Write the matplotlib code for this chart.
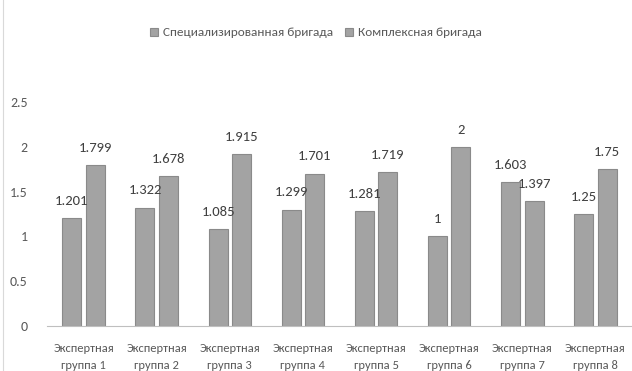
import matplotlib.pyplot as plt
import numpy as np

plt.rcParams['font.family'] = ['Carlito', 'DejaVu Sans']

groups = ["Экспертная\nгруппа 1", "Экспертная\nгруппа 2", "Экспертная\nгруппа 3",
          "Экспертная\nгруппа 4", "Экспертная\nгруппа 5", "Экспертная\nгруппа 6",
          "Экспертная\nгруппа 7", "Экспертная\nгруппа 8"]
spec = [1.201, 1.322, 1.085, 1.299, 1.281, 1, 1.603, 1.25]
kompl = [1.799, 1.678, 1.915, 1.701, 1.719, 2, 1.397, 1.75]
series_names = ["Специализированная бригада", "Комплексная бригада"]

fig = plt.figure(figsize=(6.32, 3.71), dpi=100)
ax = fig.add_axes([47/632, 45/371, 585/632, 224/371])

x = np.arange(len(groups))
w = 0.26
off = 0.16
b1 = ax.bar(x - off, spec, w, color='#a3a3a3', edgecolor='#8a8a8a', linewidth=0.8, label=series_names[0])
b2 = ax.bar(x + off, kompl, w, color='#a3a3a3', edgecolor='#8a8a8a', linewidth=0.8, label=series_names[1])

for bars, vals in ((b1, spec), (b2, kompl)):
    for b, v in zip(bars, vals):
        ax.annotate('%g' % v, (b.get_x() + b.get_width()/2, v), xytext=(0, 8),
                    textcoords='offset points', ha='center', va='bottom',
                    fontsize=10.5, color='#404040')

ax.set_xlim(-0.5, 7.5)
ax.set_ylim(0, 2.5)
ax.set_yticks([0, 0.5, 1, 1.5, 2, 2.5])
ax.set_yticklabels(['0', '0.5', '1', '1.5', '2', '2.5'])
ax.set_xticks(x)
ax.set_xticklabels(groups, fontsize=9, color='#595959', linespacing=1.75)
ax.tick_params(axis='y', length=0, pad=14, labelsize=10, labelcolor='#595959')
ax.tick_params(axis='x', length=0, pad=12)
for s in ('top', 'right', 'left'):
    ax.spines[s].set_visible(False)
ax.spines['bottom'].set_color('#bfbfbf')

fig.legend(handles=[b1, b2], loc='center', bbox_to_anchor=(0.5, 1 - 33/371), ncol=2,
           frameon=False, fontsize=9.5, labelcolor='#595959',
           handlelength=0.6, handleheight=0.6, columnspacing=0.9, handletextpad=0.4)

fig.add_artist(plt.Line2D([3/632, 3/632], [0, 1], color='#d9d9d9', lw=0.8))

fig.savefig('out.png', dpi=100)
